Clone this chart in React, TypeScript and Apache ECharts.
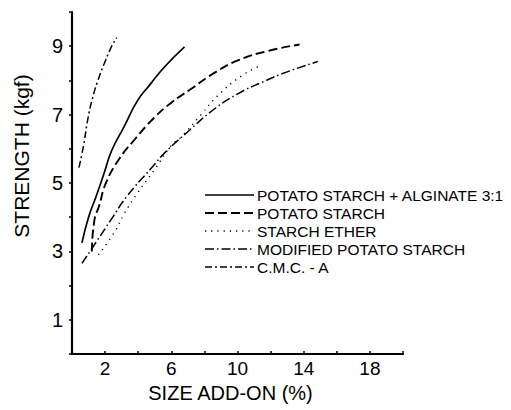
import React, { useEffect, useRef } from "react";
import * as echarts from "echarts";

const seriesNames = [
  "POTATO STARCH + ALGINATE 3:1",
  "POTATO STARCH",
  "STARCH ETHER",
  "MODIFIED POTATO STARCH",
  "C.M.C. - A",
];

const alginateX = [0.6, 1.0, 1.45, 1.95, 2.4, 3.15, 3.95, 4.7, 5.6, 6.8];
const alginateY = [3.25, 4.0, 4.6, 5.3, 5.95, 6.65, 7.4, 7.87, 8.4, 8.98];

const potatoX = [1.2, 1.35, 1.65, 2.05, 2.85, 3.75, 4.95, 6.0, 7.1, 8.7, 10.1, 11.75, 13.75];
const potatoY = [3.0, 3.9, 4.35, 5.0, 5.7, 6.25, 6.9, 7.35, 7.72, 8.25, 8.6, 8.85, 9.05];

const etherX = [1.6, 2.55, 3.15, 3.95, 5.0, 6.0, 6.6, 7.8, 8.8, 10.3, 11.5];
const etherY = [2.9, 3.55, 4.1, 4.7, 5.4, 6.1, 6.35, 7.0, 7.55, 8.15, 8.45];

const modifiedX = [0.6, 1.5, 2.35, 3.3, 4.8, 5.6, 7.0, 8.7, 10.1, 11.5, 13.0, 14.85];
const modifiedY = [2.65, 3.3, 3.92, 4.6, 5.44, 5.88, 6.5, 7.2, 7.63, 7.95, 8.25, 8.55];

const cmcX = [0.42, 0.7, 0.95, 1.25, 1.64, 2.0, 2.35, 2.7];
const cmcY = [5.45, 6.1, 6.85, 7.5, 8.1, 8.55, 8.95, 9.25];

const xTickLabels = [2, 6, 10, 14, 18];
const yTickLabels = [1, 3, 5, 7, 9];

const FONT = "'Liberation Sans', Arial, Helvetica, sans-serif";

const pair = (xs: number[], ys: number[]) => xs.map((x, i) => [x, ys[i]]);

const dashes: (number[] | "solid")[] = [
  "solid",
  [9, 4],
  [1.2, 5],
  [9, 3, 1.5, 3],
  [7, 3, 2, 3],
];
const widths = [1.7, 1.9, 1.4, 1.5, 1.5];

export default function App() {
  const ref = useRef<HTMLDivElement>(null);
  useEffect(() => {
    if (!ref.current) return;
    const chart = echarts.init(ref.current, undefined, { renderer: "svg" });
    const datas = [
      pair(alginateX, alginateY),
      pair(potatoX, potatoY),
      pair(etherX, etherY),
      pair(modifiedX, modifiedY),
      pair(cmcX, cmcY),
    ];
    const legendTop = 195;
    const legendStep = 18;
    const graphic: any[] = [];
    seriesNames.forEach((name, i) => {
      const y = legendTop + i * legendStep;
      graphic.push({
        type: "line",
        shape: { x1: 205, y1: y, x2: 254, y2: y },
        style: {
          stroke: "#000",
          lineWidth: widths[i],
          lineDash: dashes[i] === "solid" ? null : (dashes[i] as number[]),
        },
      });
      graphic.push({
        type: "text",
        x: 257,
        y,
        style: {
          text: name,
          fill: "#000",
          font: `15.5px ${FONT}`,
          textVerticalAlign: "middle",
          textAlign: "left",
        },
      });
    });
    chart.setOption({
      animation: false,
      backgroundColor: "#fff",
      grid: { left: 72, right: 108, top: 12, bottom: 56 },
      xAxis: {
        type: "value",
        min: 0,
        max: 20,
        interval: 2,
        name: "SIZE ADD-ON (%)",
        nameLocation: "middle",
        nameGap: 24,
        nameTextStyle: { color: "#000", fontSize: 20, fontFamily: FONT, padding: [0, 14, 0, 0] },
        axisLine: { lineStyle: { color: "#000", width: 2.2 } },
        axisTick: { inside: true, length: 3, lineStyle: { color: "#000", width: 1.5 } },
        splitLine: { show: false },
        axisLabel: {
          color: "#000",
          fontSize: 19,
          fontFamily: FONT,
          margin: 5,
          formatter: (v: number) => (xTickLabels.includes(v) ? String(v) : ""),
        },
      },
      yAxis: {
        type: "value",
        min: 0,
        max: 10,
        interval: 1,
        name: "STRENGTH (kgf)",
        nameLocation: "middle",
        nameGap: 40,
        nameTextStyle: { color: "#000", fontSize: 21, fontFamily: FONT, padding: [0, 0, 0, 54] },
        axisLine: { lineStyle: { color: "#000", width: 2.2 } },
        axisTick: { inside: false, length: 3, lineStyle: { color: "#000", width: 1.5 } },
        splitLine: { show: false },
        axisLabel: {
          color: "#000",
          fontSize: 20,
          fontFamily: FONT,
          margin: 9,
          formatter: (v: number) => (yTickLabels.includes(v) ? String(v) : ""),
        },
      },
      series: datas.map((d, i) => ({
        type: "line",
        name: seriesNames[i],
        data: d,
        smooth: true,
        showSymbol: false,
        symbol: "none",
        lineStyle: { color: "#000", width: widths[i], type: dashes[i] },
      })),
      graphic,
    });
    return () => chart.dispose();
  }, []);
  return (
    <div
      ref={ref}
      style={{ position: "absolute", left: 0, top: 0, width: 511, height: 410, background: "#fff" }}
    />
  );
}
